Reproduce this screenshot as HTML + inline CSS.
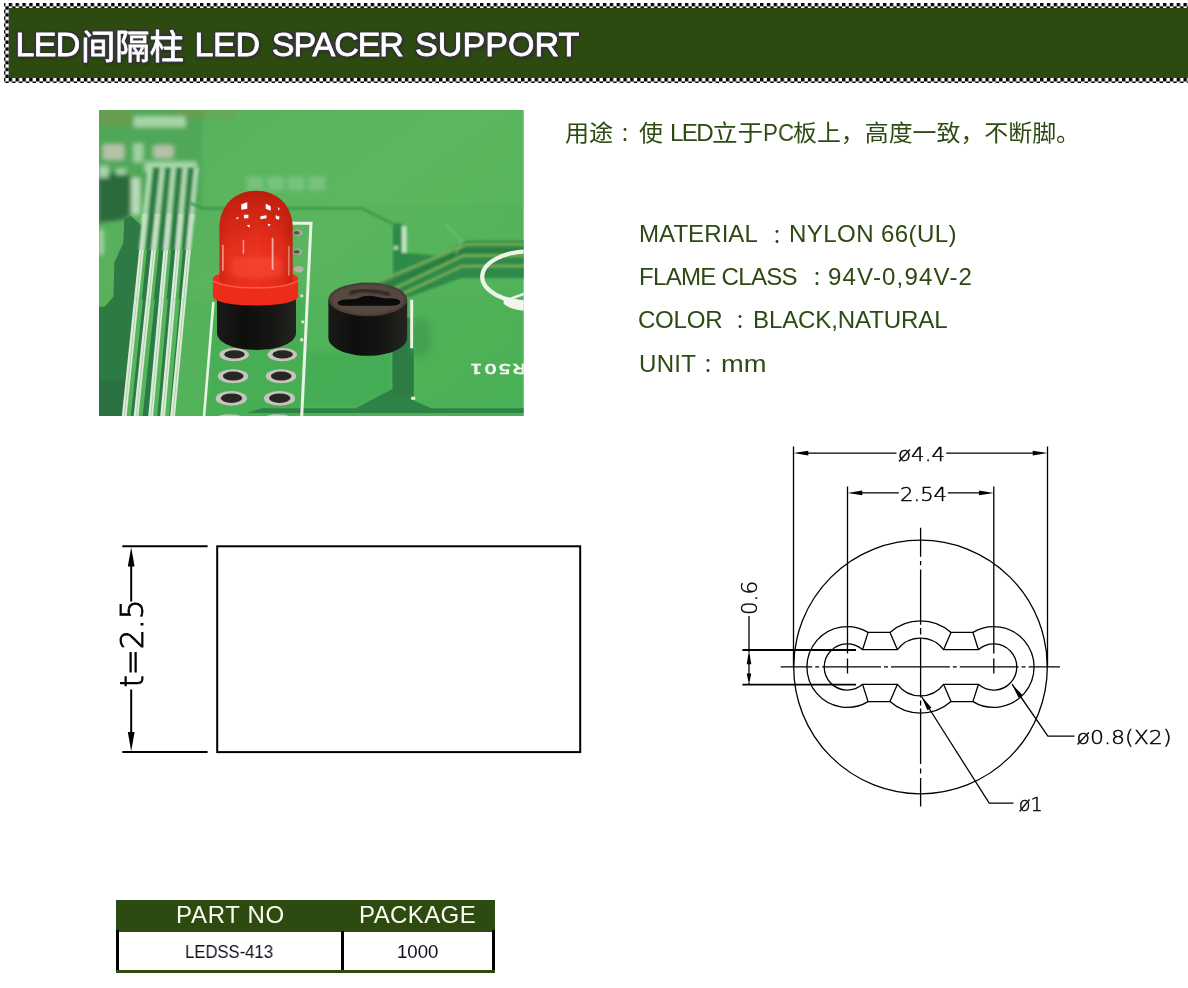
<!DOCTYPE html>
<html lang="zh-CN">
<head>
<meta charset="utf-8">
<title>LED间隔柱 LED SPACER SUPPORT</title>
<style>
html,body{margin:0;padding:0;background:#fff;}
body{width:1188px;height:988px;position:relative;overflow:hidden;font-family:"Liberation Sans","Noto Sans CJK SC",sans-serif;}
.abs{position:absolute;will-change:transform;}
#checker{left:4px;top:3px;width:1184px;height:80px;}
#banner{left:8.8px;top:8.1px;width:1180px;height:69.6px;background:#2d4a10;}
#title{margin:0;font-weight:400;left:15px;top:22.4px;height:44px;line-height:44px;color:#fff;white-space:nowrap;font-size:34px;
  text-shadow:1.30px 0.00px 0 #35353a,1.13px 0.65px 0 #35353a,0.65px 1.13px 0 #35353a,0.00px 1.30px 0 #35353a,-0.65px 1.13px 0 #35353a,-1.13px 0.65px 0 #35353a,-1.30px 0.00px 0 #35353a,-1.13px -0.65px 0 #35353a,-0.65px -1.13px 0 #35353a,-0.00px -1.30px 0 #35353a,0.65px -1.13px 0 #35353a,1.13px -0.65px 0 #35353a,2.00px 0.00px 0 #35353a,1.90px 0.62px 0 #35353a,1.62px 1.18px 0 #35353a,1.18px 1.62px 0 #35353a,0.62px 1.90px 0 #35353a,0.00px 2.00px 0 #35353a,-0.62px 1.90px 0 #35353a,-1.18px 1.62px 0 #35353a,-1.62px 1.18px 0 #35353a,-1.90px 0.62px 0 #35353a,-2.00px 0.00px 0 #35353a,-1.90px -0.62px 0 #35353a,-1.62px -1.18px 0 #35353a,-1.18px -1.62px 0 #35353a,-0.62px -1.90px 0 #35353a,-0.00px -2.00px 0 #35353a,0.62px -1.90px 0 #35353a,1.18px -1.62px 0 #35353a,1.62px -1.18px 0 #35353a,1.90px -0.62px 0 #35353a,1px 2px 3px rgba(0,0,0,.55);-webkit-text-stroke:0.8px #fff;}
#title .w{position:absolute;top:0;}
#title .cj{font-size:34.3px;}
.seg{position:absolute;white-space:nowrap;line-height:32px;height:32px;transform-origin:0 50%;will-change:transform;}
.gt{color:#2d4a12;}
.ln{margin:0;padding:0;}
#thead{left:116px;top:899.8px;width:378.8px;height:31.6px;background:#2d4a10;}
.th{color:#fffdf2;}
.td{color:#10101c;}
.cad{font-family:"DejaVu Sans Light","DejaVu Sans",sans-serif;font-weight:200;fill:#000;stroke:#000;stroke-width:0.45px;}
#t25{stroke-width:0.9px;}
</style>
</head>
<body>
<svg id="checker" class="abs" width="1184" height="80" viewBox="4 3 1184 80"><defs><pattern id="ck" x="1.9" y="2.9" width="6.83" height="6.83" patternUnits="userSpaceOnUse"><rect x="0" y="0" width="3.415" height="3.415" fill="#000"/><rect x="3.415" y="3.415" width="3.415" height="3.415" fill="#000"/></pattern></defs><rect x="4" y="3" width="1184" height="80" fill="#fff"/><rect x="4" y="3" width="1184" height="80" fill="url(#ck)"/></svg>
<div id="banner" class="abs"></div>
<h1 id="title" class="abs"><span class="w" style="left:0.5px;letter-spacing:-0.7px">LED</span><span class="w cj" style="left:66px;top:2.9px">间隔柱</span> <span class="w" style="left:179.5px;letter-spacing:-0.3px">LED</span> <span class="w" style="left:256.8px;letter-spacing:-1.04px">SPACER</span> <span class="w" style="left:400px;letter-spacing:0.1px">SUPPORT</span></h1>

<!--PHOTO-->
<svg id="photo" class="abs" style="left:99.3px;top:110.2px" width="424.7" height="306.3" viewBox="99.3 110.2 424.7 306.3">
<defs>
<linearGradient id="pg" x1="0" y1="0" x2="1" y2="1"><stop offset="0" stop-color="#55ad5a"/><stop offset="0.45" stop-color="#5ab55e"/><stop offset="1" stop-color="#4bb156"/></linearGradient>
<filter id="b2" x="-20%" y="-20%" width="140%" height="140%"><feGaussianBlur stdDeviation="2"/></filter>
<filter id="b1" x="-20%" y="-20%" width="140%" height="140%"><feGaussianBlur stdDeviation="1"/></filter>
<filter id="b05" x="-20%" y="-20%" width="140%" height="140%"><feGaussianBlur stdDeviation="0.55"/></filter>
<filter id="b07" x="-20%" y="-20%" width="140%" height="140%"><feGaussianBlur stdDeviation="0.7"/></filter>
<filter id="b15" x="-20%" y="-20%" width="140%" height="140%"><feGaussianBlur stdDeviation="1.5"/></filter>
<filter id="b4" x="-30%" y="-30%" width="160%" height="160%"><feGaussianBlur stdDeviation="4"/></filter>
<linearGradient id="ledb" x1="0" y1="0" x2="1" y2="0"><stop offset="0" stop-color="#c9220f"/><stop offset="0.12" stop-color="#de2a17"/><stop offset="0.5" stop-color="#ea301d"/><stop offset="0.85" stop-color="#dc2815"/><stop offset="1" stop-color="#bd1e0d"/></linearGradient>
<linearGradient id="ledv" x1="0" y1="0" x2="0" y2="1"><stop offset="0" stop-color="#a8160a" stop-opacity=".7"/><stop offset="0.4" stop-color="#c4200f" stop-opacity=".3"/><stop offset="0.72" stop-color="#ff4a36" stop-opacity=".2"/><stop offset="1" stop-color="#ff3c2a" stop-opacity=".1"/></linearGradient>
<linearGradient id="blk" x1="0" y1="0" x2="1" y2="0"><stop offset="0" stop-color="#1a1a18"/><stop offset="0.35" stop-color="#0e0e0d"/><stop offset="0.7" stop-color="#161614"/><stop offset="1" stop-color="#242420"/></linearGradient>
<clipPath id="pc"><rect x="99.3" y="110.2" width="424.7" height="306.3"/></clipPath>
</defs>
<g clip-path="url(#pc)">
<rect x="99" y="110" width="426" height="307" fill="url(#pg)"/>
<path d="M306 352H392V390L358 407H305Z" fill="#3fac54" opacity=".75" filter="url(#b2)"/>
<path d="M214 300H306L302.500 417H205Z" fill="#40ab53" opacity=".6" filter="url(#b2)"/>
<rect x="99" y="300" width="426" height="117" fill="#46ae54" opacity=".25" filter="url(#b4)"/>
<!-- blurred background top-left -->
<g filter="url(#b2)">
<path d="M99 110H203V204H99Z" fill="#50a858"/>
<path d="M99 110H132V126H99ZM172 110H236V119H172Z" fill="#6f9a4e" opacity=".75"/>
<path d="M99 173H127L131 178V215L124.6 219.4L99 223Z" fill="#2a6b3e"/>
<rect x="131.5" y="178" width="9" height="37" fill="#b9dcb9"/>
<rect x="134" y="116.5" width="52" height="11" fill="#a6d4a6"/>
<rect x="103" y="144.5" width="21.5" height="15.5" rx="3" fill="#b5c2a8"/>
<rect x="133.5" y="143.5" width="10" height="19" fill="#9fd2a2"/>
<rect x="153.5" y="145.5" width="20.5" height="13" rx="3" fill="#b5c2a8"/>
<rect x="145" y="162" width="52" height="10" fill="#a9d8ac"/>
<rect x="99" y="166" width="10" height="12" fill="#a4d4a8"/>
<rect x="116.5" y="169" width="10" height="6" fill="#a4d4a8"/>
<rect x="99" y="230" width="5" height="25" fill="#a9d6ac"/>
<path d="M247 177h17v14h-17zM267.5 177h17v14h-17zM288 177h17v14h-17zM308.500 177h17v14h-17z" fill="#86c78c"/>
</g>
<!-- left dark area -->
<path d="M124.6 219.4L123.6 243L114.7 262.8L113.7 297L105 307H99V417H126L142 226L131 216Z" fill="#2e7a44" filter="url(#b05)"/>
<path d="M99 381H127.5L124.5 417H99Z" fill="#2b7040"/>
<!-- trace bundle -->
<g filter="url(#b15)"><path d="M150.4 168.0L196.6 168.0L191.4 222.0L144.7 222.0Z" fill="#2b7a44"/><path d="M152.4 168.0L153.9 168.0L148.2 222.0L146.7 222.0Z" fill="#56b45a"/><path d="M164.6 168.0L166.1 168.0L160.4 222.0L158.9 222.0Z" fill="#56b45a"/><path d="M175.6 168.0L177.1 168.0L172.2 222.0L170.7 222.0Z" fill="#56b45a"/><path d="M187.3 168.0L188.8 168.0L183.9 222.0L182.4 222.0Z" fill="#56b45a"/><path d="M148.1 168.0L152.7 168.0L147.0 222.0L142.4 222.0Z" fill="#b6dcb8"/><path d="M150.3 168.0L151.0 168.0L145.3 222.0L144.6 222.0Z" fill="#9cc8a0"/><path d="M160.3 168.0L164.9 168.0L159.2 222.0L154.6 222.0Z" fill="#b6dcb8"/><path d="M162.5 168.0L163.2 168.0L157.5 222.0L156.8 222.0Z" fill="#9cc8a0"/><path d="M171.3 168.0L175.9 168.0L171.0 222.0L166.4 222.0Z" fill="#b6dcb8"/><path d="M173.5 168.0L174.2 168.0L169.3 222.0L168.6 222.0Z" fill="#9cc8a0"/><path d="M183.0 168.0L187.6 168.0L182.7 222.0L178.1 222.0Z" fill="#b6dcb8"/><path d="M185.2 168.0L185.9 168.0L181.0 222.0L180.3 222.0Z" fill="#9cc8a0"/><path d="M194.3 168.0L198.9 168.0L193.7 222.0L189.1 222.0Z" fill="#b6dcb8"/><path d="M196.5 168.0L197.2 168.0L192.0 222.0L191.3 222.0Z" fill="#9cc8a0"/></g>
<clipPath id="cb1"><rect x="99" y="214" width="120" height="36"/></clipPath><g clip-path="url(#cb1)"><g filter="url(#b1)"><path d="M146.8 202.0L193.3 202.0L187.6 262.0L140.6 262.0Z" fill="#2b7a44"/><path d="M148.8 202.0L150.8 202.0L144.6 262.0L142.6 262.0Z" fill="#56b45a"/><path d="M161.0 202.0L163.0 202.0L156.7 262.0L154.7 262.0Z" fill="#56b45a"/><path d="M172.5 202.0L174.5 202.0L169.0 262.0L167.0 262.0Z" fill="#56b45a"/><path d="M184.2 202.0L186.2 202.0L180.8 262.0L178.8 262.0Z" fill="#56b45a"/><path d="M144.3 202.0L149.3 202.0L143.1 262.0L138.1 262.0Z" fill="#cfe6cf"/><path d="M146.7 202.0L147.4 202.0L141.2 262.0L140.5 262.0Z" fill="#9cc8a0"/><path d="M156.5 202.0L161.5 202.0L155.2 262.0L150.2 262.0Z" fill="#cfe6cf"/><path d="M158.9 202.0L159.6 202.0L153.3 262.0L152.6 262.0Z" fill="#9cc8a0"/><path d="M168.0 202.0L173.0 202.0L167.5 262.0L162.5 262.0Z" fill="#cfe6cf"/><path d="M170.4 202.0L171.1 202.0L165.6 262.0L164.9 262.0Z" fill="#9cc8a0"/><path d="M179.7 202.0L184.7 202.0L179.3 262.0L174.3 262.0Z" fill="#cfe6cf"/><path d="M182.1 202.0L182.8 202.0L177.4 262.0L176.7 262.0Z" fill="#9cc8a0"/><path d="M190.8 202.0L195.8 202.0L190.1 262.0L185.1 262.0Z" fill="#cfe6cf"/><path d="M193.2 202.0L193.9 202.0L188.2 262.0L187.5 262.0Z" fill="#9cc8a0"/></g></g>
<clipPath id="cb2"><rect x="99" y="250" width="120" height="50"/></clipPath><g clip-path="url(#cb2)"><g filter="url(#b07)"><path d="M143.1 238.0L189.9 238.0L182.8 312.0L135.4 312.0Z" fill="#2b7a44"/><path d="M145.1 238.0L148.5 238.0L140.8 312.0L137.4 312.0Z" fill="#56b45a"/><path d="M157.2 238.0L160.6 238.0L152.8 312.0L149.4 312.0Z" fill="#56b45a"/><path d="M169.2 238.0L172.6 238.0L165.9 312.0L162.5 312.0Z" fill="#56b45a"/><path d="M181.0 238.0L184.4 238.0L177.7 312.0L174.3 312.0Z" fill="#56b45a"/><path d="M140.7 238.0L145.5 238.0L137.8 312.0L133.0 312.0Z" fill="#dcebd8"/><path d="M143.0 238.0L143.7 238.0L136.0 312.0L135.3 312.0Z" fill="#9cc8a0"/><path d="M152.8 238.0L157.6 238.0L149.8 312.0L145.0 312.0Z" fill="#dcebd8"/><path d="M155.1 238.0L155.8 238.0L148.0 312.0L147.3 312.0Z" fill="#9cc8a0"/><path d="M164.8 238.0L169.6 238.0L162.9 312.0L158.1 312.0Z" fill="#dcebd8"/><path d="M167.1 238.0L167.8 238.0L161.1 312.0L160.4 312.0Z" fill="#9cc8a0"/><path d="M176.6 238.0L181.4 238.0L174.7 312.0L169.9 312.0Z" fill="#dcebd8"/><path d="M178.9 238.0L179.6 238.0L172.9 312.0L172.2 312.0Z" fill="#9cc8a0"/><path d="M187.5 238.0L192.3 238.0L185.2 312.0L180.4 312.0Z" fill="#dcebd8"/><path d="M189.8 238.0L190.5 238.0L183.4 312.0L182.7 312.0Z" fill="#9cc8a0"/></g></g>
<clipPath id="cb3"><rect x="99" y="300" width="120" height="118"/></clipPath><g clip-path="url(#cb3)"><g filter="url(#b05)"><path d="M137.9 288.0L185.1 288.0L171.6 430.0L123.1 430.0Z" fill="#2b7a44"/><path d="M139.9 288.0L144.5 288.0L129.7 430.0L125.1 430.0Z" fill="#56b45a"/><path d="M151.9 288.0L156.5 288.0L141.5 430.0L136.9 430.0Z" fill="#56b45a"/><path d="M164.7 288.0L169.3 288.0L156.3 430.0L151.7 430.0Z" fill="#56b45a"/><path d="M176.5 288.0L181.1 288.0L168.3 430.0L163.7 430.0Z" fill="#56b45a"/><path d="M135.5 288.0L140.3 288.0L125.5 430.0L120.7 430.0Z" fill="#dcebd8"/><path d="M137.8 288.0L138.5 288.0L123.7 430.0L123.0 430.0Z" fill="#9cc8a0"/><path d="M147.5 288.0L152.3 288.0L137.3 430.0L132.5 430.0Z" fill="#dcebd8"/><path d="M149.8 288.0L150.5 288.0L135.5 430.0L134.8 430.0Z" fill="#9cc8a0"/><path d="M160.3 288.0L165.1 288.0L152.1 430.0L147.3 430.0Z" fill="#dcebd8"/><path d="M162.6 288.0L163.3 288.0L150.3 430.0L149.6 430.0Z" fill="#9cc8a0"/><path d="M172.1 288.0L176.9 288.0L164.1 430.0L159.3 430.0Z" fill="#dcebd8"/><path d="M174.4 288.0L175.1 288.0L162.3 430.0L161.6 430.0Z" fill="#9cc8a0"/><path d="M182.7 288.0L187.5 288.0L174.0 430.0L169.2 430.0Z" fill="#dcebd8"/><path d="M185.0 288.0L185.7 288.0L172.2 430.0L171.5 430.0Z" fill="#9cc8a0"/></g></g>
<path d="M202.5 110V203" fill="none" stroke="#4ba655" stroke-width="3" filter="url(#b1)"/>
<path d="M190 203L203 208.4H362L394 224.5" fill="none" stroke="#3d964a" stroke-width="2.4" filter="url(#b1)"/>
<rect x="203" y="110" width="322" height="96" fill="#60ba62" opacity=".35" filter="url(#b2)"/>
<!-- dark strip + dark bundle right -->
<g filter="url(#b1)">
<path d="M393.3 223.8H402V253L440 256L467 241H540V278.5H461L409 297.5L377 284L393.3 275Z" fill="#2f8a48"/>
<path d="M380 281.5L467 244.5H540M392 290L463 256H540M401 295L462 266.5L540 266" fill="none" stroke="#74ad55" stroke-width="2.6"/>
<path d="M386 286L465 250.5H540" fill="none" stroke="#2a7a40" stroke-width="3"/>
<path d="M402 226.4H407V252.9H402Z" fill="#bfe2c4"/><path d="M394 246H398.5V250H394Z" fill="#a6d4ac"/>
<path d="M446 225L462 241L456 255" fill="none" stroke="#8fd09a" stroke-width="1.6" opacity=".5"/>
</g>
<!-- inside circle dark -->
<!-- lower traces -->
<path d="M393 318H413.8V400.7L431.7 408.4H525V413.3H247L262 408.4H356L393 389Z" fill="#2f8246"/>
<path d="M393 340H414V396H393Z" fill="#2c7c44"/>
<ellipse cx="421" cy="338" rx="11" ry="20" fill="#3c9a4e" filter="url(#b4)" opacity=".7"/>
<!-- white circle -->
<ellipse cx="530" cy="277" rx="47.5" ry="25.5" fill="none" stroke="#eef3e6" stroke-width="4.2" filter="url(#b05)"/>
<path d="M504 298C509 297 520 300 526 303V311C518 311 508 308 504 304Z" fill="#f2f5ec" filter="url(#b05)"/>
<path d="M511 299L526 293.5" stroke="#eef3e6" stroke-width="2.6" fill="none"/>
<!-- silk lines -->
<g fill="none" stroke="#eaf3e6" filter="url(#b05)">
<path d="M292 223.500H311.300L302 417" stroke-width="3"/>
<path d="M213.700 302L204.300 417" stroke-width="2.600"/>
<path d="M412 300V348.5" stroke-width="3"/>
<path d="M411.5 398.5H415.5" stroke-width="3"/>
</g>
<!-- small holes behind LED -->
<g filter="url(#b05)"><ellipse cx="298" cy="233" rx="5" ry="3.2" fill="#a9a99a"/><ellipse cx="298" cy="252" rx="5" ry="3.2" fill="#a9a99a"/><ellipse cx="299" cy="269.5" rx="5" ry="3.2" fill="#b3b3a6"/>
<ellipse cx="297" cy="233" rx="3" ry="1.8" fill="#55584a"/><ellipse cx="297" cy="252" rx="3" ry="1.8" fill="#55584a"/>
<circle cx="302" cy="296" r="1.6" fill="#d8e8d8"/><circle cx="303" cy="322" r="1.6" fill="#d8e8d8"/><circle cx="302" cy="340" r="1.8" fill="#d8e8d8"/></g>
<!-- hole pads -->
<g filter="url(#b05)">
<g fill="#c9c3bb"><ellipse cx="234.4" cy="354.8" rx="14.8" ry="6.6"/><ellipse cx="282.6" cy="354.8" rx="14.8" ry="6.6"/><ellipse cx="233.3" cy="376.5" rx="15.2" ry="7"/><ellipse cx="281.3" cy="376.5" rx="15.2" ry="7"/><ellipse cx="231.6" cy="398.6" rx="15.6" ry="7.3"/><ellipse cx="279.8" cy="398.6" rx="15.6" ry="7.3"/><ellipse cx="230" cy="419" rx="14" ry="4.5"/><ellipse cx="278" cy="419" rx="14" ry="4.5"/></g>
<g fill="#262624"><ellipse cx="234.8" cy="354.6" rx="10.2" ry="4.2"/><ellipse cx="283" cy="354.6" rx="10.2" ry="4.2"/><ellipse cx="233.5" cy="376.3" rx="10.4" ry="4.5"/><ellipse cx="281.5" cy="376.3" rx="10.4" ry="4.5"/><ellipse cx="231.8" cy="398.4" rx="10.6" ry="4.8"/><ellipse cx="280" cy="398.4" rx="10.6" ry="4.8"/></g>
</g>
<!-- LED spacer (black) -->
<path d="M217.3 296V333C217.3 343 234 350.2 256.8 350.2S296.3 343 296.3 333V296Z" fill="url(#blk)"/>
<!-- LED flange -->
<path d="M213.2 279C213.2 274 228 271 256 271S298.4 274 298.4 279V296.5C298.4 302 281 305.8 256 305.8S213.2 302 213.2 296.5Z" fill="#ee2c1a"/>
<path d="M213.2 281C222 286 240 288 256 288S290 286 298.4 281" fill="none" stroke="#ff6a58" stroke-width="1.4" opacity=".8"/>
<!-- LED body -->
<path d="M219.8 282V228C219.8 206 235 191 256.3 191S292.9 206 292.9 228V282C285 285.5 270 287 256.3 287S228 285.5 219.8 282Z" fill="url(#ledb)"/>
<path d="M219.8 282V228C219.8 206 235 191 256.3 191S292.9 206 292.9 228V282C285 285.5 270 287 256.3 287S228 285.5 219.8 282Z" fill="url(#ledv)"/>
<rect x="232" y="258" width="50" height="20" rx="6" fill="#ff5640" opacity=".4" filter="url(#b2)"/>
<g fill="#fff" filter="url(#b05)"><path d="M241.6 204.5l6-2v6.5l-6 1zM266 204l5 2.500v4.500l-5-2zM244.200 215h4.500v3.500h-4.500zM260.800 216.500l6-1v3l-6 1zM276 215.500l4 1.500-1 3-3-1zM247 225.500l3-0.500v3zM268 224l3 0.500-2 2.500zM278 207l2 2-1 2zM236 219l2-2 1 2z"/><rect x="272" y="238" width="1.800" height="32" opacity=".6"/><rect x="222.300" y="245" width="1.800" height="26" opacity=".45"/><rect x="288.500" y="246" width="1.400" height="30" opacity=".45"/><rect x="243" y="240" width="1.500" height="14" opacity=".5"/></g>
<!-- second spacer -->
<path d="M328.7 299.5V338C328.7 348 346 356 368 356S407.5 348 407.5 338V299.5Z" fill="url(#blk)"/>
<ellipse cx="368.1" cy="299.6" rx="39.4" ry="16.8" fill="#463a34"/>
<ellipse cx="368.1" cy="299.6" rx="37" ry="15" fill="#56483f" filter="url(#b1)"/>
<path d="M338 303.5C338 300 345 299.5 352 299.5C358 299.5 362 296 369 296S380 298.5 387 298.5S400.7 299 400.7 302.5C400.7 305.5 394 306 387 306H352C345 306 338 306.5 338 303.5Z" fill="#0c0b0b"/>
<path d="M350 294C356 291 364 290 369 291S384 292 390 295" fill="none" stroke="#2a2320" stroke-width="3" filter="url(#b1)"/>
<!-- R501 silk -->
<text transform="translate(526.8 363.8) rotate(180) scale(1.55 1)" font-family="'Noto Sans CJK SC','Liberation Sans',sans-serif" font-size="13.8" fill="#f4f7f0" stroke="#f4f7f0" stroke-width="0.7" style="letter-spacing:1.5px">R501</text>
</g>
</svg>

<!--/PHOTO-->
<!--DRAW-->
<svg id="draw" class="abs" style="left:0;top:0" width="1188" height="988" viewBox="0 0 1188 988">
<g fill="none" stroke="#000" stroke-width="2">
<rect x="217.2" y="546.3" width="363" height="205.8"/>
<path d="M122.3 546.3H207.6M122.3 752.1H207.6M131.2 560V601.5M131.2 689.5V738"/>
</g>
<path fill="#000" d="M131.20 547.20 L134.60 566.50 L127.80 566.50 Z M131.20 751.20 L127.80 731.90 L134.60 731.90 Z"/>
<text id="t25" class="cad" font-size="32.5" transform="translate(143.3 687.5) rotate(-90)" textLength="88" lengthAdjust="spacingAndGlyphs">t=2.5</text>
<g fill="none" stroke="#000" stroke-width="1.3">
<circle cx="920.5" cy="667.0" r="126.8"/>
<path d="M862.55 649.71 A23.06 23.06 0 1 0 862.55 684.29 L897.44 684.29 A28.82 28.82 0 0 0 943.56 684.29 L978.45 684.29 A23.06 23.06 0 1 0 978.45 649.71 L943.56 649.71 A28.82 28.82 0 0 0 897.44 649.71 Z"/>
<path d="M868.08 632.42 A40.35 40.35 0 1 0 868.08 701.58 L890.00 701.58 A46.11 46.11 0 0 0 951.00 701.58 L972.92 701.58 A40.35 40.35 0 1 0 972.92 632.42 L951.00 632.42 A46.11 46.11 0 0 0 890.00 632.42 Z"/>
<path d="M868.08 632.42 L862.55 649.71 M890.00 632.42 L897.44 649.71 M868.08 701.58 L862.55 684.29 M890.00 701.58 L897.44 684.29 M972.92 632.42 L978.45 649.71 M951.00 632.42 L943.56 649.71 M972.92 701.58 L978.45 684.29 M951.00 701.58 L943.56 684.29 "/>
<path d="M793.5 446.5V667M1047.5 446.5V667M847.5 486.5V653.5M847.5 658.5V673.5M993.8 486.5V653.5M993.8 658.5V673.5"/>
<path d="M805 453.1H896.5M946.3 453.1H1036M859 492.9H898.8M947.8 492.9H982"/>
<path d="M749 616V652M749 662V675M749 683V684.7"/>
<path d="M1012 684.2L1047.9 736.2H1074.5M921.5 696.5L989.2 803.2H1013.5"/>
<path d="M920.6 527.8V556.8M920.6 561V565.3M920.6 569.5V624.8M920.6 628V634.5M920.6 638.3V697.5M920.6 700.5V705.5M920.6 708.5V764M920.6 768.5V773.5M920.6 778V806.4"/>
<path d="M780.7 666.9H812.2M815.2 666.9H819.2M822.2 666.9H881M884 666.9H888M891 666.9H949.8M952.8 666.9H956.8M959.8 666.9H1018.6M1021.6 666.9H1025.6M1028.6 666.9H1060"/>
</g>
<path fill="none" stroke="#000" stroke-width="1.8" d="M742.4 650H856M742.4 684.7H856"/>
<path fill="#000" d="M793.50 453.10 L808.30 450.70 L808.30 455.50 Z M1047.50 453.10 L1032.70 455.50 L1032.70 450.70 Z M847.50 492.90 L862.30 490.50 L862.30 495.30 Z M993.80 492.90 L979.00 495.30 L979.00 490.50 Z M749.00 650.30 L751.30 664.30 L746.70 664.30 Z M749.00 684.40 L746.70 673.40 L751.30 673.40 Z M1012.00 684.20 L1022.38 695.02 L1018.43 697.74 Z M921.50 696.50 L931.46 707.71 L927.40 710.28 Z"/>
<text id="d44" class="cad" font-size="19.5" x="898" y="460.8" textLength="47" lengthAdjust="spacingAndGlyphs">ø4.4</text>
<text id="d254" class="cad" font-size="20" x="900" y="500.5" textLength="47" lengthAdjust="spacingAndGlyphs">2.54</text>
<text id="d06" class="cad" font-size="21" transform="translate(757 615) rotate(-90)" textLength="34" lengthAdjust="spacingAndGlyphs">0.6</text>
<text id="d08" class="cad" font-size="20" x="1076.5" y="744" textLength="95" lengthAdjust="spacingAndGlyphs">ø0.8(X2)</text>
<text id="d1" class="cad" font-size="19.5" x="1018.8" y="810.6" textLength="24" lengthAdjust="spacingAndGlyphs">ø1</text>
</svg>
<!--/DRAW-->
<div id="thead" class="abs"></div>
<div class="abs" style="left:116px;top:930px;width:2.9px;height:40px;background:#000"></div>
<div class="abs" style="left:341.3px;top:931px;width:2.7px;height:39px;background:#000"></div>
<div class="abs" style="left:492.2px;top:930px;width:2.6px;height:40px;background:#000"></div>
<div class="abs" style="left:116px;top:969.8px;width:378.8px;height:3.1px;background:#2d4a10"></div>
<!--TEXT-->
<p class="ln" id="ln-use"><span id="u1" class="seg gt" style="left:565.00px;top:117.00px;font-size:22.7px;transform:scaleX(1.0607);">用途</span><span id="u2" class="seg gt" style="left:620.00px;top:118.00px;font-size:20.0px;">：</span><span id="u3" class="seg gt" style="left:639.00px;top:117.00px;font-size:22.7px;transform:scaleX(1.0570);">使 </span><span id="u4" class="seg gt" style="left:670.00px;top:117.00px;font-size:24.2px;letter-spacing:-1.686px;">LED</span><span id="u5" class="seg gt" style="left:712.00px;top:117.00px;font-size:22.7px;transform:scaleX(1.1275);">立于</span><span id="u6" class="seg gt" style="left:763.00px;top:117.00px;font-size:24.2px;transform:scaleX(0.9223);">PC</span><span id="u7" class="seg gt" style="left:793.00px;top:117.00px;font-size:22.7px;transform:scaleX(1.0542);">板上，高度一致，不断脚。</span></p>
<p class="ln" id="ln-s1"><span id="s1a" class="seg gt" style="left:639.00px;top:218.00px;font-size:24.1px;letter-spacing:0.018px;">MATERIAL </span><span id="s1b" class="seg gt" style="left:772.00px;top:220.00px;font-size:20.0px;">：</span><span id="s1c" class="seg gt" style="left:789.00px;top:218.00px;font-size:24.1px;letter-spacing:0.390px;">NYLON 66(UL)</span></p>
<p class="ln" id="ln-s2"><span id="s2a" class="seg gt" style="left:639.00px;top:261.00px;font-size:24.1px;letter-spacing:-0.735px;">FLAME CLASS </span><span id="s2b" class="seg gt" style="left:812.00px;top:262.00px;font-size:20.0px;">：</span><span id="s2c" class="seg gt" style="left:828.00px;top:261.00px;font-size:24.1px;letter-spacing:1.131px;">94V-0,94V-2</span></p>
<p class="ln" id="ln-s3"><span id="s3a" class="seg gt" style="left:638.00px;top:304.00px;font-size:24.1px;letter-spacing:-0.286px;">COLOR </span><span id="s3b" class="seg gt" style="left:735.00px;top:305.00px;font-size:20.0px;">：</span><span id="s3c" class="seg gt" style="left:753.00px;top:304.00px;font-size:24.1px;letter-spacing:-0.144px;">BLACK,NATURAL</span></p>
<p class="ln" id="ln-s4"><span id="s4a" class="seg gt" style="left:639.00px;top:348.00px;font-size:24.1px;letter-spacing:0.273px;">UNIT</span><span id="s4b" class="seg gt" style="left:703.00px;top:349.00px;font-size:20.0px;">：</span><span id="s4c" class="seg gt" style="left:721.00px;top:348.00px;font-size:24.1px;transform:scaleX(1.1305);">mm</span></p>
<div class="ln" id="ln-th1"><span id="th1" class="seg th" style="left:176.00px;top:899.00px;font-size:24px;letter-spacing:0.706px;">PART NO</span></div>
<div class="ln" id="ln-th2"><span id="th2" class="seg th" style="left:359.00px;top:899.00px;font-size:24px;letter-spacing:0.401px;">PACKAGE</span></div>
<div class="ln" id="ln-td1"><span id="td1" class="seg td" style="left:185.00px;top:936.00px;font-size:18.5px;transform:scaleX(0.9010);">LEDSS-413</span></div>
<div class="ln" id="ln-td2"><span id="td2" class="seg td" style="left:397.00px;top:936.00px;font-size:18.5px;transform:scaleX(1.0082);">1000</span></div>
<!--/TEXT-->
</body>
</html>
